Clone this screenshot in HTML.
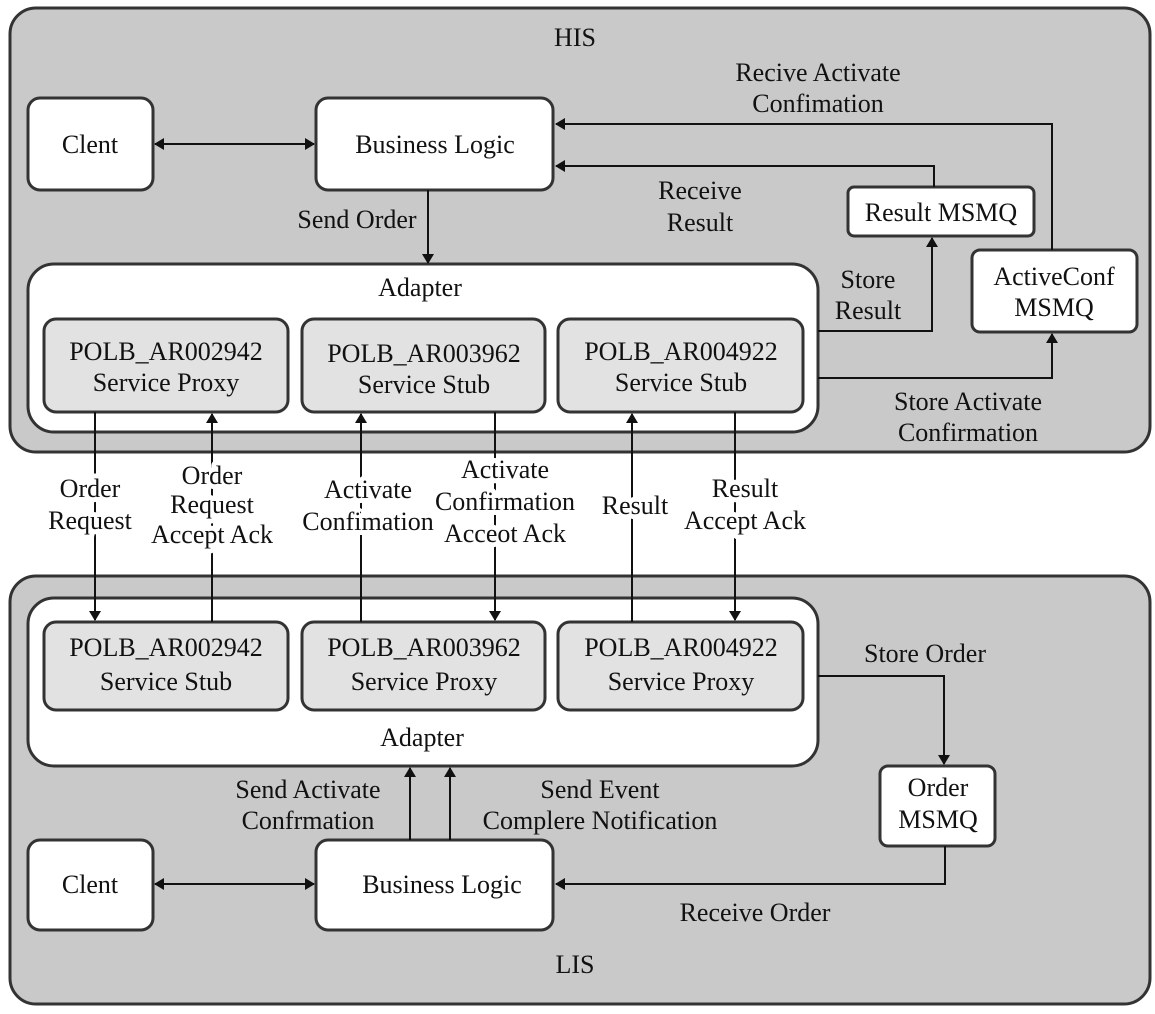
<!DOCTYPE html>
<html><head><meta charset="utf-8"><style>
html,body{margin:0;padding:0;background:#fff}
svg text{font-family:"Liberation Serif",serif;font-size:26px;fill:#111;text-anchor:middle}
svg .h text{stroke:#fff;stroke-width:10px;paint-order:stroke;stroke-linejoin:round}
</style></head><body>
<svg width="1155" height="1009" viewBox="0 0 1155 1009" xmlns="http://www.w3.org/2000/svg">
<defs>
<marker id="a" markerWidth="10" markerHeight="14" refX="9" refY="7" orient="auto" markerUnits="userSpaceOnUse">
<path d="M0,1 L10,7 L0,13 z" fill="#111"/></marker>
<marker id="s" markerWidth="10" markerHeight="14" refX="1" refY="7" orient="auto" markerUnits="userSpaceOnUse">
<path d="M10,1 L0,7 L10,13 z" fill="#111"/></marker>
</defs>
<rect x="0" y="0" width="1155" height="1009" fill="#fff"/>
<g stroke="#333" stroke-width="3">
<rect x="10" y="8" width="1140" height="444" rx="26" fill="#c9c9c9"/>
<rect x="10" y="576" width="1140" height="428" rx="26" fill="#c9c9c9"/>
<rect x="28" y="98" width="125" height="92" rx="12" fill="#fff"/>
<rect x="316" y="98" width="237" height="92" rx="12" fill="#fff"/>
<rect x="28" y="264" width="790" height="168" rx="26" fill="#fff"/>
<rect x="44" y="319" width="244" height="93" rx="12" fill="#e2e2e2"/>
<rect x="302" y="319" width="243" height="93" rx="12" fill="#e2e2e2"/>
<rect x="558" y="319" width="245" height="93" rx="12" fill="#e2e2e2"/>
<rect x="848" y="187" width="186" height="49" rx="6" fill="#fff"/>
<rect x="972" y="250" width="165" height="82" rx="8" fill="#fff"/>
<rect x="28" y="598" width="790" height="168" rx="26" fill="#fff"/>
<rect x="44" y="622" width="244" height="88" rx="12" fill="#e2e2e2"/>
<rect x="302" y="622" width="243" height="88" rx="12" fill="#e2e2e2"/>
<rect x="558" y="622" width="245" height="88" rx="12" fill="#e2e2e2"/>
<rect x="880" y="766" width="115" height="80" rx="8" fill="#fff"/>
<rect x="28" y="840" width="125" height="90" rx="12" fill="#fff"/>
<rect x="316" y="840" width="237" height="90" rx="12" fill="#fff"/>
</g>
<g stroke="#111" stroke-width="2" fill="none">
<line x1="155" y1="144" x2="314" y2="144" marker-start="url(#s)" marker-end="url(#a)"/>
<line x1="428" y1="190" x2="428" y2="263" marker-end="url(#a)"/>
<polyline points="934,187 934,166 556,166" marker-end="url(#a)"/>
<polyline points="1052,250 1052,124 556,124" marker-end="url(#a)"/>
<polyline points="818,331 932,331 932,238" marker-end="url(#a)"/>
<polyline points="818,378 1052,378 1052,334" marker-end="url(#a)"/>
<line x1="95" y1="412" x2="95" y2="620" marker-end="url(#a)"/>
<line x1="212" y1="622" x2="212" y2="414" marker-end="url(#a)"/>
<line x1="361" y1="622" x2="361" y2="414" marker-end="url(#a)"/>
<line x1="495" y1="412" x2="495" y2="620" marker-end="url(#a)"/>
<line x1="632" y1="622" x2="632" y2="414" marker-end="url(#a)"/>
<line x1="735" y1="412" x2="735" y2="620" marker-end="url(#a)"/>
<polyline points="818,676 944,676 944,764" marker-end="url(#a)"/>
<polyline points="945,846 945,884 556,884" marker-end="url(#a)"/>
<line x1="155" y1="884" x2="314" y2="884" marker-start="url(#s)" marker-end="url(#a)"/>
<line x1="410" y1="840" x2="410" y2="768" marker-end="url(#a)"/>
<line x1="450" y1="840" x2="450" y2="768" marker-end="url(#a)"/>
</g>
<g>
<text x="575" y="46">HIS</text>
<text x="818" y="81">Recive Activate</text>
<text x="818" y="112">Confimation</text>
<text x="90" y="153">Clent</text>
<text x="435" y="153">Business Logic</text>
<text x="700" y="199">Receive</text>
<text x="700" y="231">Result</text>
<text x="941" y="221">Result MSMQ</text>
<text x="357" y="228">Send Order</text>
<text x="420" y="296">Adapter</text>
<text x="868" y="288">Store</text>
<text x="868" y="319">Result</text>
<text x="1054" y="285">ActiveConf</text>
<text x="1054" y="316">MSMQ</text>
<text x="166" y="360">POLB_AR002942</text>
<text x="166" y="391">Service Proxy</text>
<text x="424" y="362">POLB_AR003962</text>
<text x="424" y="393">Service Stub</text>
<text x="681" y="360">POLB_AR004922</text>
<text x="681" y="391">Service Stub</text>
<text x="968" y="410">Store Activate</text>
<text x="968" y="441">Confirmation</text>
</g>
<g class="h">
<text x="90" y="497">Order</text>
<text x="90" y="529">Request</text>
<text x="212" y="484">Order</text>
<text x="212" y="513">Request</text>
<text x="212" y="543">Accept Ack</text>
<text x="368" y="498">Activate</text>
<text x="368" y="530">Confimation</text>
<text x="505" y="478">Activate</text>
<text x="505" y="510">Confirmation</text>
<text x="505" y="542">Acceot Ack</text>
<text x="635" y="514">Result</text>
<text x="745" y="497">Result</text>
<text x="745" y="529">Accept Ack</text>
</g>
<g>
<text x="166" y="656">POLB_AR002942</text>
<text x="166" y="690">Service Stub</text>
<text x="424" y="656">POLB_AR003962</text>
<text x="424" y="690">Service Proxy</text>
<text x="681" y="656">POLB_AR004922</text>
<text x="681" y="690">Service Proxy</text>
<text x="925" y="662">Store Order</text>
<text x="422" y="746">Adapter</text>
<text x="938" y="796">Order</text>
<text x="938" y="828">MSMQ</text>
<text x="308" y="798">Send Activate</text>
<text x="308" y="829">Confrmation</text>
<text x="600" y="798">Send Event</text>
<text x="600" y="829">Complere Notification</text>
<text x="90" y="893">Clent</text>
<text x="442" y="893">Business Logic</text>
<text x="755" y="921">Receive Order</text>
<text x="575" y="973">LIS</text>
</g>
</svg>
</body></html>
